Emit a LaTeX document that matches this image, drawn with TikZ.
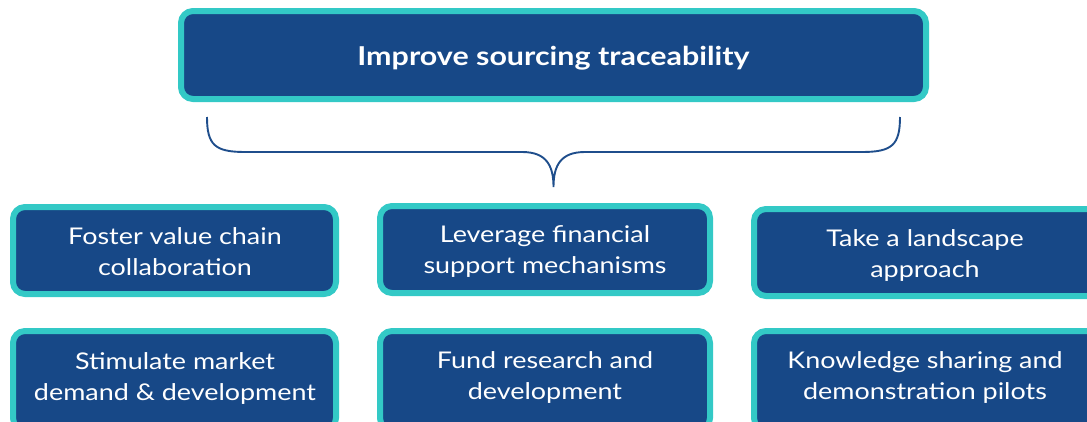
\documentclass[tikz,border=0pt]{standalone}
\usepackage{fontspec}
\setmainfont[FakeStretch=1.17]{Lato}
\definecolor{boxblue}{HTML}{174887}
\definecolor{teal}{HTML}{33C9C6}
\definecolor{bracecol}{HTML}{1F4E8C}
\begin{document}
\begin{tikzpicture}[x=1pt,y=-1pt,
  card/.style={draw=teal, line width=6pt, fill=boxblue, rounded corners=12pt},
  cardtext/.style={text=white, align=center, font=\fontsize{23}{31}\selectfont, inner sep=0pt},
  titletext/.style={text=white, align=center, font=\bfseries\fontsize{26}{30}\selectfont, inner sep=0pt}]
\useasboundingbox (0,0) rectangle (1087,421);
\clip (0,0) rectangle (1087,421);
% top box
\draw[card] (181,11) rectangle (926,99);
\node[titletext] (title) at (553.5,58) {Improve sourcing traceability};
% brace
\coordinate (bl) at (207,117);
\coordinate (br) at (900,117);
\coordinate (tip) at (553.5,187);
\draw[bracecol, line width=1.9pt]
  (bl) .. controls (207,145) and (215,152) .. (245,152) -- (522,152)
  .. controls (546,152) and (553.5,165) .. (tip)
  .. controls (553.5,165) and (561,152) .. (585,152) -- (862,152)
  .. controls (892,152) and (900,145) .. (br);
% row 1
\draw[card] (13,207) rectangle (336,294);
\node[cardtext] (b1) at (175,252) {Foster value chain\\collaboration};
\draw[card] (380,206) rectangle (710,293);
\node[cardtext] (b2) at (545,251) {Leverage financial\\support mechanisms};
\draw[card] (754,209) rectangle (1100,296);
\node[cardtext] (b3) at (925,255) {Take a landscape\\approach};
% row 2
\draw[card] (13,331) rectangle (336,430);
\node[cardtext] (b4) at (175,378) {Stimulate market\\demand \& development};
\draw[card] (380,331) rectangle (710,430);
\node[cardtext] (b5) at (545,377) {Fund research and\\development};
\draw[card] (754,331) rectangle (1100,430);
\node[cardtext] (b6) at (925,377) {Knowledge sharing and\\demonstration pilots};
\end{tikzpicture}
\end{document}
